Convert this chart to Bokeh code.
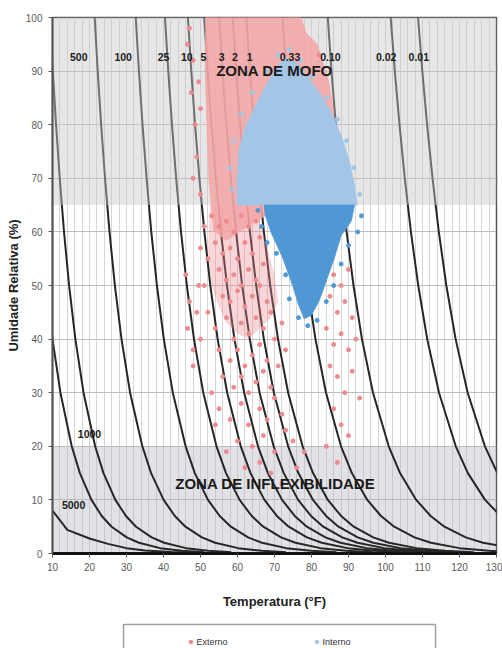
from bokeh.plotting import figure
from bokeh.layouts import column
from bokeh.models import Range1d, FixedTicker, Legend, LegendItem
from bokeh.core.properties import value
from bokeh.embed import file_html
from bokeh.resources import INLINE

FONT = "Liberation Sans"

# ---------------- axes ----------------
X_TICKS = list(range(10, 131, 10))
Y_TICKS = list(range(0, 101, 10))
X_MINOR = list(range(10, 131, 2))

# ---------------- zones ----------------
MOFO_LOW, MOFO_HIGH = 65, 100
INFLEX_LOW, INFLEX_HIGH = 0, 20

# ---------------- isoperm curves (Temperature in F at each RH level) -----
RH_LEVELS = [100, 90, 80, 70, 60, 50, 40, 30, 20, 15, 10, 7, 5, 3, 2, 1, 0.5, 0.25]

T_1000 = [9.3, 10.08, 10.96, 11.96, 13.11, 14.49, 16.18, 18.39, 21.53, 23.78, 26.99, 29.85, 32.58, 36.79, 40.17, 46.07, 52.12, 58.30]
T_500 = [21.4, 22.22, 23.15, 24.20, 25.41, 26.86, 28.65, 30.97, 34.28, 36.65, 40.04, 43.06, 45.93, 50.37, 53.95, 60.18, 66.56, 73.10]
T_100 = [32.5, 33.36, 34.33, 35.43, 36.70, 38.22, 40.09, 42.52, 45.98, 48.47, 52.02, 55.19, 58.21, 62.86, 66.62, 73.16, 79.87, 86.75]
T_25 = [40.4, 41.29, 42.29, 43.42, 44.74, 46.31, 48.24, 50.75, 54.33, 56.90, 60.57, 63.84, 66.96, 71.78, 75.66, 82.43, 89.38, 96.51]
T_10 = [46.6, 47.51, 48.53, 49.70, 51.05, 52.65, 54.63, 57.21, 60.88, 63.52, 67.28, 70.64, 73.84, 78.78, 82.77, 89.73, 96.86, 104.19]
T_5 = [51.0, 51.93, 52.97, 54.15, 55.53, 57.16, 59.17, 61.80, 65.54, 68.22, 72.05, 75.47, 78.74, 83.77, 87.83, 94.92, 102.19, 109.65]
T_3 = [55.0, 55.94, 57.00, 58.20, 59.60, 61.26, 63.31, 65.97, 69.77, 72.50, 76.39, 79.87, 83.18, 88.30, 92.43, 99.64, 107.03, 114.63]
T_2 = [58.7, 59.65, 60.72, 61.95, 63.36, 65.05, 67.12, 69.83, 73.68, 76.45, 80.40, 83.93, 87.30, 92.49, 96.68, 104.01, 111.52, 119.24]
T_1 = [62.4, 63.37, 64.46, 65.69, 67.13, 68.84, 70.95, 73.69, 77.60, 80.41, 84.42, 88.00, 91.42, 96.69, 100.95, 108.38, 116.02, 123.86]
T_033 = [72.2, 73.20, 74.33, 75.62, 77.11, 78.88, 81.07, 83.92, 87.98, 90.91, 95.07, 98.79, 102.35, 107.84, 112.27, 120.01, 127.95, 136.13]
T_010 = [84.4, 85.40, 86.58, 87.93, 89.49, 91.35, 93.64, 96.62, 100.87, 103.93, 108.30, 112.21, 115.93, 121.69, 126.34, 134.47]
T_002 = [101.4, 102.52, 103.78, 105.21, 106.87, 108.85, 111.28, 114.46, 118.99, 122.26, 126.92, 131.08]
T_001 = [108.8, 109.95, 111.24, 112.71, 114.41, 116.44, 118.95, 122.21, 126.87, 130.22]

# curves that start on the left axis
T_2500 = [8.35, 10.0, 12.14, 15.20, 17.40, 20.53, 23.31, 25.97, 30.06, 33.36, 39.09, 44.97, 50.98]
RH_2500 = [50, 40, 30, 20, 15, 10, 7, 5, 3, 2, 1, 0.5, 0.25]
T_5000 = [10, 14, 20, 25, 30, 35, 42, 50, 60]
RH_5000 = [8, 4.4, 2.8, 1.8, 1.0, 0.55, 0.3, 0.15, 0.05]

# curve labels
TOP_LABELS = ["500", "100", "25", "10", "5", "3", "2", "1", "0.33", "0.10", "0.02", "0.01"]
TOP_LABEL_T = [17.1, 29.1, 40.0, 46.3, 50.8, 55.7, 59.3, 63.3, 74.2, 85.1, 100.2, 109.0]
TOP_LABEL_RH = [92.7] * 12
LOW_LABELS = ["1000", "5000"]
LOW_LABEL_T = [20.0, 15.7]
LOW_LABEL_RH = [22.3, 9.0]

# ---------------- measured data clouds ----------------
# Externo: dense core (outline of the cloud in the mould zone)
EXT_CORE_T = [51.5, 77.2, 78.6, 81.5, 84.8, 85.9, 86.7, 85.3, 77.2, 67.7, 61.0, 56.9, 53.6, 52.3, 51.7, 51.2]
EXT_CORE_RH = [100, 100, 97.0, 95.1, 87.7, 82.6, 75.2, 65.0, 63.1, 63.1, 60.3, 58.4, 60.3, 69.6, 80.8, 92.0]
# Externo: medium-density band just below the mould zone
EXT_MID_T = [52.5, 67.0, 66.0, 68.0, 70.0, 71.0, 69.0, 66.0, 63.0, 60.0, 57.0, 55.0, 53.0, 52.0]
EXT_MID_RH = [65.0, 65.0, 62.0, 57.0, 52.0, 47.0, 44.0, 42.0, 40.0, 41.0, 43.0, 46.0, 50.0, 56.0]
# Externo: scattered readings
EXT_T = [47, 48, 47.5, 48.5, 49, 48, 50, 46.5, 49.5, 50, 86.5, 87.5, 82,
         53, 55, 57, 59, 61, 63, 65, 54, 56, 58, 60, 62, 64, 66, 55, 57, 59, 61, 63, 65, 67, 56, 58, 60, 62, 64, 66, 68, 52, 51,
         52, 54, 57, 59, 61, 63, 65, 67, 69, 55, 58, 60, 62, 64, 66, 68, 70, 72, 56, 59, 61, 63, 65, 67, 69, 71, 73, 50, 48, 53,
         55, 58, 61, 63, 66, 68, 70, 72, 60, 64, 67, 70, 73, 75, 62, 66, 69, 72, 76, 78, 57, 54,
         83, 86, 88, 90, 85, 87, 89, 91, 84, 86, 88, 90, 92, 85, 87, 89, 91, 93, 86, 88, 90, 84, 87,
         46, 47, 46.5, 48, 49, 50, 51, 49.5]
EXT_RH = [98, 92, 86, 80, 74, 70, 67, 95, 88, 83, 79, 71, 93,
          63, 61, 62, 60, 63, 61, 62, 58, 56, 57, 55, 58, 56, 59, 53, 51, 52, 50, 53, 51, 54, 48, 47, 49, 46, 48, 50, 47, 55, 50,
          45, 42, 44, 40, 43, 41, 44, 42, 45, 38, 36, 38, 35, 37, 39, 36, 40, 43, 33, 31, 33, 30, 32, 34, 31, 35, 38, 40, 35, 30,
          27, 25, 28, 24, 27, 25, 29, 26, 21, 20, 22, 19, 23, 21, 16, 17, 15, 13, 16, 19, 19, 24,
          55, 52, 50, 53, 48, 45, 47, 44, 42, 39, 41, 38, 40, 35, 33, 30, 34, 29, 27, 24, 22, 20, 17,
          52, 47, 42, 38, 45, 57, 61, 50]

# Interno: dense cores above and below 65 % RH
INT_TOP_T = [72.6, 75.9, 78.6, 82.1, 85.3, 88.0, 90.2, 91.6, 92.4, 59.9, 59.9, 60.4, 62.3, 65.0, 67.7, 70.4]
INT_TOP_RH = [92.4, 91.6, 89.2, 86.0, 82.3, 78.0, 73.3, 68.7, 65.0, 65.0, 69.6, 75.2, 79.9, 83.6, 87.3, 90.5]
INT_LOW_T = [67.2, 91.6, 90.8, 88.0, 86.2, 84.0, 82.1, 79.9, 78.0, 76.4, 75.0, 72.3, 69.1, 67.5]
INT_LOW_RH = [65.0, 65.0, 62.1, 59.3, 55.2, 50.9, 47.2, 44.4, 43.8, 46.6, 49.8, 55.0, 59.9, 63.1]
# Interno: scattered readings at the edge of the cloud
INT_T_HI = [58.5, 58, 59, 61, 64, 68, 71, 74, 77, 80, 84, 87, 89.5, 91.5, 93, 62, 63]
INT_RH_HI = [68, 72, 77, 82, 86, 90, 93, 94, 92, 89, 85, 81, 77, 72, 67, 67, 72]
INT_T_LO = [93.5, 92.5, 90, 88, 86, 84, 81.5, 79, 76.5, 74, 73, 70.5, 68, 66.5, 65.5]
INT_RH_LO = [63, 60, 57.5, 54, 50, 47, 43.5, 42.5, 44, 47.5, 52, 56, 58, 61, 64]

# legend strip layout (canvas pixels of the strip under the chart)
STRIP_X = (52, 496)
LEGEND_BOX = dict(left=123, right=435, top=24, bottom=-5)

# ---------------- colours ----------------
CURVE_COLOR = "#262626"
EXT_COLOR = "#ec8a8e"
EXT_CORE_COLOR = "#f3a4a4"
INT_LIGHT = "#a3c6e6"
INT_DARK = "#4f98d3"

p = figure(width=502, height=620, output_backend="svg", toolbar_location=None,
           x_range=Range1d(10, 130), y_range=Range1d(0, 100),
           min_border_left=52, min_border_right=6, min_border_top=17, min_border_bottom=67)
p.background_fill_color = "white"
p.border_fill_color = "white"
p.outline_line_color = "#555555"
p.outline_line_width = 1.5

# grid
p.xgrid.ticker = FixedTicker(ticks=X_MINOR)
p.xgrid.grid_line_color = "#d6d6d6"
p.xgrid.grid_line_width = 1
p.ygrid.ticker = FixedTicker(ticks=Y_TICKS)
p.ygrid.grid_line_color = "#bdbdbd"
p.ygrid.grid_line_width = 1

# axes
p.xaxis.ticker = FixedTicker(ticks=X_TICKS)
p.yaxis.ticker = FixedTicker(ticks=Y_TICKS)
for ax in (p.xaxis[0], p.yaxis[0]):
    ax.major_label_text_font = FONT
    ax.major_label_text_font_size = "10px"
    ax.major_label_text_color = "#5a5a5a"
    ax.axis_label_text_font = FONT
    ax.axis_label_text_font_size = "13px"
    ax.axis_label_text_font_style = "bold"
    ax.axis_label_text_color = "#222222"
    ax.minor_tick_line_color = None
    ax.major_tick_in = 0
    ax.major_tick_out = 4
    ax.major_tick_line_color = "#555555"
p.xaxis.axis_label = "Temperatura (°F)"
p.yaxis.axis_label = "Umidade Relativa (%)"
p.xaxis.axis_line_color = "#111111"
p.xaxis.axis_line_width = 3
p.yaxis.axis_line_color = "#555555"
p.yaxis.axis_line_width = 2
p.xaxis.major_label_standoff = 5
p.yaxis.major_label_standoff = 6
p.xaxis.axis_label_standoff = 20
p.yaxis.axis_label_standoff = 2

# lower zone (behind the curves)
p.quad(left=[X_TICKS[0]], right=[X_TICKS[-1]], bottom=[INFLEX_LOW], top=[INFLEX_HIGH],
       fill_color="#b4b4c0", fill_alpha=0.4, line_alpha=0)

# isoperm curves
curves = [(T_5000, RH_5000), (T_2500, RH_2500), (T_1000, RH_LEVELS), (T_500, RH_LEVELS),
          (T_100, RH_LEVELS), (T_25, RH_LEVELS), (T_10, RH_LEVELS), (T_5, RH_LEVELS),
          (T_3, RH_LEVELS), (T_2, RH_LEVELS), (T_1, RH_LEVELS), (T_033, RH_LEVELS),
          (T_010, RH_LEVELS), (T_002, RH_LEVELS), (T_001, RH_LEVELS)]
for ts, rhs in curves:
    p.line(ts, rhs[:len(ts)], line_color=CURVE_COLOR, line_width=2)

# mould zone overlay (over curves)
p.quad(left=[X_TICKS[0]], right=[X_TICKS[-1]], bottom=[MOFO_LOW], top=[MOFO_HIGH],
       fill_color="#c8c8c8", fill_alpha=0.45, line_alpha=0)

# data clouds
p.patch(EXT_MID_T, EXT_MID_RH, fill_color=EXT_COLOR, fill_alpha=0.35, line_alpha=0)
p.patch(EXT_CORE_T, EXT_CORE_RH, fill_color=EXT_CORE_COLOR, fill_alpha=0.85, line_color=EXT_CORE_COLOR, line_alpha=0.6)
p.scatter(EXT_T, EXT_RH, size=4, fill_color=EXT_COLOR, line_color=EXT_COLOR, marker="circle")
p.patch(INT_TOP_T, INT_TOP_RH, fill_color=INT_LIGHT, line_color=INT_LIGHT, line_alpha=0.8)
p.patch(INT_LOW_T, INT_LOW_RH, fill_color=INT_DARK, line_color=INT_DARK, line_alpha=0.8)
p.scatter(INT_T_HI, INT_RH_HI, size=4, fill_color=INT_LIGHT, line_color=INT_LIGHT, marker="circle")
p.scatter(INT_T_LO, INT_RH_LO, size=4, fill_color=INT_DARK, line_color=INT_DARK, marker="circle")

# labels
p.text(TOP_LABEL_T, TOP_LABEL_RH, text=TOP_LABELS, text_align="center", text_baseline="middle",
       text_font=value(FONT), text_font_size="10.5px", text_font_style="bold", text_color="#1a1a1a")
p.text(LOW_LABEL_T, LOW_LABEL_RH, text=LOW_LABELS, text_align="center", text_baseline="middle",
       text_font=value(FONT), text_font_size="10.5px", text_font_style="bold", text_color="#1a1a1a")
p.text([70.0], [90.1], text=["ZONA DE MOFO"], text_align="center", text_baseline="middle",
       text_font=value(FONT), text_font_size="15px", text_font_style="bold", text_color="#1a1a1a")
p.text([70.2], [13.1], text=["ZONA DE INFLEXIBILIDADE"], text_align="center", text_baseline="middle",
       text_font=value(FONT), text_font_size="15px", text_font_style="bold", text_color="#1a1a1a")

# ---------------- legend strip ----------------
lg = figure(width=502, height=28, output_backend="svg", toolbar_location=None,
            x_range=Range1d(*STRIP_X), y_range=Range1d(0, 28),
            x_axis_type=None, y_axis_type=None,
            min_border_left=0, min_border_right=0, min_border_top=0, min_border_bottom=0)
lg.outline_line_color = None
lg.background_fill_color = "white"
lg.border_fill_color = "white"
lg.quad(left=[LEGEND_BOX["left"]], right=[LEGEND_BOX["right"]],
        bottom=[LEGEND_BOX["bottom"]], top=[LEGEND_BOX["top"]],
        fill_color="white", line_color="#a0a0a0", line_width=1.5)
# legend proxies: same series, plotted out of this strip's view
r_ext = lg.scatter(EXT_T[:1], EXT_RH[:1], size=4, fill_color=EXT_COLOR, line_color=EXT_COLOR, marker="circle")
r_int = lg.scatter(INT_T_HI[:1], INT_RH_HI[:1], size=4, fill_color=INT_LIGHT, line_color=INT_LIGHT, marker="circle")
legend = Legend(items=[LegendItem(label="Externo", renderers=[r_ext]),
                       LegendItem(label="Interno", renderers=[r_int])],
                orientation="horizontal", location=(133.5, 1.5),
                border_line_alpha=0, background_fill_alpha=0, padding=0, margin=0,
                spacing=75, glyph_width=9, glyph_height=9, label_standoff=2,
                label_width=40, label_height=10,
                label_text_font=FONT, label_text_font_size="9px", label_text_color="#333333")
lg.add_layout(legend)

layout = column(p, lg, spacing=0)
open("out.html", "w").write(file_html(layout, INLINE))
